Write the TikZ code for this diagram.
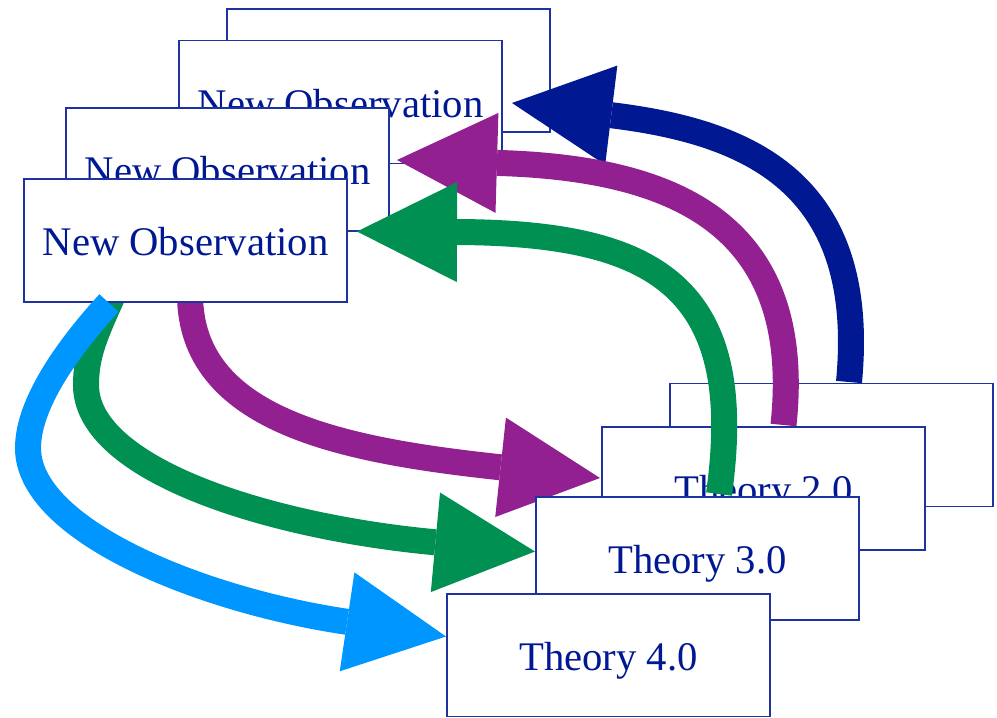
\documentclass[tikz,border=0pt]{standalone}
\usepackage{fontspec}
\setmainfont{Liberation Serif}
\usetikzlibrary{arrows.meta,calc}
\definecolor{tblue}{RGB}{0,25,147}
\definecolor{edgeblue}{RGB}{30,50,160}
\definecolor{apurple}{RGB}{146,32,144}
\definecolor{agreen}{RGB}{0,144,81}
\definecolor{alblue}{RGB}{0,150,255}
\pgfdeclarelayer{bg}
\pgfsetlayers{bg,main}
\begin{document}
\begin{tikzpicture}[x=0.75pt,y=-0.75pt,
  box/.style={draw=edgeblue, line width=1.1pt, fill=white,
    minimum width=242.25pt, minimum height=92.25pt,
    inner sep=0pt, outer sep=0pt, text=tblue,
    font=\fontsize{30.5}{36}\selectfont, text height=23pt, text depth=0pt},
  bigarrow/.style={line width=19.5pt,
    -{Triangle[length=75pt,width=75pt,line width=0pt]}},
]
\useasboundingbox (0,0) rectangle (997,718);
\clip (-5,-5) rectangle (1002,716.5);
% top-left stack
\node[box] (A) at (388.5,70.5) {};
\node[box] (B) at (340.5,102) {New Observation};
\node[box] (C) at (227.5,169.5) {New Observation};
\node[box] (D) at (185.5,240.5) {New Observation};
% bottom-right stack with return arrows
\node[box] (E) at (831.5,445) {};
\draw[bigarrow, tblue] ($(E.north)+(17.5,-1.5)$) .. controls (868,182) and (748,132) .. ($(B.east)+(10,1)$);
\node[box] (F) at (763.5,488.5) {Theory 2.0};
\draw[bigarrow, apurple] ($(F.north)+(20,-2)$) .. controls (805,222) and (672,168) .. ($(C.east)+(8,-9.5)$);
\node[box] (G) at (697.5,558.5) {Theory 3.0};
\draw[bigarrow, agreen] ($(G.north)+(21.5,-3)$) .. controls (748,286) and (655,233) .. ($(D.east)+(10,-9)$);
\node[box] (H) at (608.5,655.5) {Theory 4.0};
% forward arrows
\begin{pgfonlayer}{bg}
\draw[bigarrow, apurple] ($(D.south)+(4.5,-8)$) .. controls (190,420) and (340,450) .. ($(F.west)+(-2,-10.5)$);
\draw[bigarrow, agreen] ($(D.south)+(-72,-8)$) .. controls (95,335) and (86,355) .. (86,385)
   .. controls (86,470) and (270,527) .. ($(G.west)+(-1,-7)$);
\end{pgfonlayer}
\draw[bigarrow, alblue] ($(D.south)+(-76.5,1)$) .. controls (75,340) and (28,400) .. (28,448)
   .. controls (28,530) and (200,600) .. ($(H.west)+(-1,-19)$);
\end{tikzpicture}
\end{document}
